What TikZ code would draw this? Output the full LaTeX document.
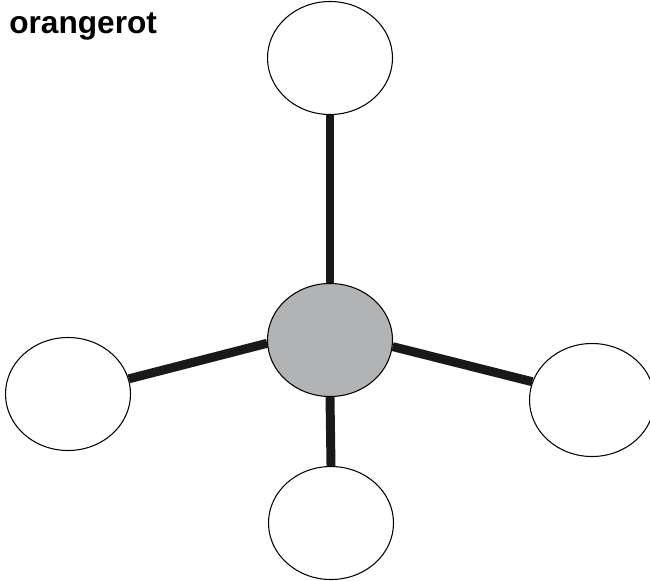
\documentclass[tikz,border=0pt]{standalone}
\usepackage{fontspec}
\setmainfont{Liberation Sans}
\usepackage{xcolor}
\usetikzlibrary{shapes.geometric}

\definecolor{kerngrau}{RGB}{178,179,181}

\begin{document}
\begin{tikzpicture}[
    atom/.style={draw, ellipse, fill=white, line width=0.6pt, inner sep=0pt, minimum width=2.5cm, minimum height=2.26cm},
    kern/.style={atom, fill=kerngrau},
    bindung/.style={line width=5.1pt, color=black!90},
    titel/.style={font=\bfseries\fontsize{18}{20}\selectfont, inner sep=0pt, anchor=base west},
]
\useasboundingbox (0,0) rectangle (13,-11.6);

% ---- Titel ----
\node[titel] (farbe) at (0.18,-0.66) {orangerot};

% ---- Zentrum und Liganden ----
\node[kern] (mitte) at (6.60,-6.80) {};
\node[atom] (oben) at (6.60,-1.16) {};
\node[atom] (links) at (1.36,-7.88) {};
\node[atom] (rechts) at (11.84,-8.00) {};
\node[atom] (unten) at (6.62,-10.46) {};

% ---- Bindungen ----
\draw[bindung] (oben.south) -- (mitte.north);
\draw[bindung] (mitte.south) -- (unten.north);
\draw[bindung] (mitte.183) -- (links.14);
\draw[bindung] (mitte.-6) -- (rechts.163);

\end{tikzpicture}
\end{document}
